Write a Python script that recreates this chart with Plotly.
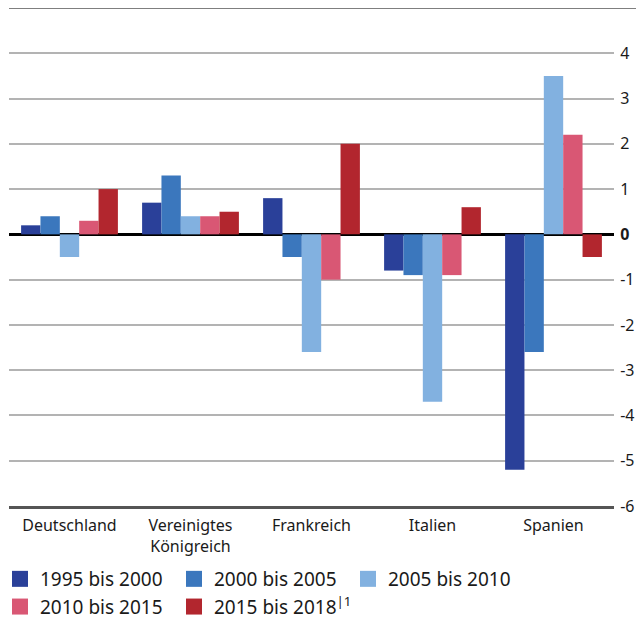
import plotly.graph_objects as go

countries = ["Deutschland", "Vereinigtes<br>Königreich", "Frankreich", "Italien", "Spanien"]
series_names = ["1995 bis 2000", "2000 bis 2005", "2005 bis 2010", "2010 bis 2015", "2015 bis 2018<sup>|1</sup>"]
v1995_2000 = [0.2, 0.7, 0.8, -0.8, -5.2]
v2000_2005 = [0.4, 1.3, -0.5, -0.9, -2.6]
v2005_2010 = [-0.5, 0.4, -2.6, -3.7, 3.5]
v2010_2015 = [0.3, 0.4, -1.0, -0.9, 2.2]
v2015_2018 = [1.0, 0.5, 2.0, 0.6, -0.5]
tick_vals = [-6, -5, -4, -3, -2, -1, 0, 1, 2, 3, 4]
tick_text = ["-6", "-5", "-4", "-3", "-2", "-1", "<b>0</b>", "1", "2", "3", "4"]

colors = ["#2a4099", "#3b77bd", "#82b1e0", "#d95774", "#b2262e"]
values = [v1995_2000, v2000_2005, v2005_2010, v2010_2015, v2015_2018]

FONT = "Noto Sans"
fig = go.Figure()
for name, vals, col in zip(series_names, values, colors):
    fig.add_trace(go.Bar(x=countries, y=vals, name=name, marker=dict(color=col, line=dict(width=0)),
                         showlegend=False))
for name, col in zip(series_names, colors):
    fig.add_trace(go.Scatter(x=[None], y=[None], mode="markers", name=name,
                             marker=dict(symbol="square", size=20, color=col)))

fig.update_layout(
    width=636, height=620,
    margin=dict(l=9, r=22, t=8, b=114, autoexpand=False),
    paper_bgcolor="white", plot_bgcolor="white",
    font=dict(family=FONT, size=16, color="#1a1a1a"),
    barmode="group", bargap=0.2, bargroupgap=0,
    showlegend=True,
    legend=dict(orientation="h", xref="container", x=-3 / 636, xanchor="left",
                yref="container", y=1 - 560 / 620, yanchor="top",
                entrywidth=129, entrywidthmode="pixels", font=dict(size=19, family=FONT),
                itemwidth=30, tracegroupgap=0, bgcolor="rgba(0,0,0,0)",
                borderwidth=0),
    xaxis=dict(showline=True, linecolor="#555555", linewidth=3, showgrid=False,
               ticks="outside", ticklen=3, tickcolor="rgba(0,0,0,0)",
               tickfont=dict(size=16)),
    yaxis=dict(side="right", range=[-6, 5], tickvals=tick_vals, ticktext=tick_text,
               showgrid=True, gridcolor="#b3b3b3", gridwidth=1.5,
               zeroline=True, zerolinecolor="#000000", zerolinewidth=2.5,
               ticks="outside", ticklen=2, tickcolor="rgba(0,0,0,0)", showline=False,
               tickfont=dict(size=16)),
    shapes=[dict(type="line", xref="paper", yref="y", x0=0, x1=1.04, y0=5, y1=5,
                 line=dict(color="#555555", width=1.5))],
)
fig.write_html("out.html")
